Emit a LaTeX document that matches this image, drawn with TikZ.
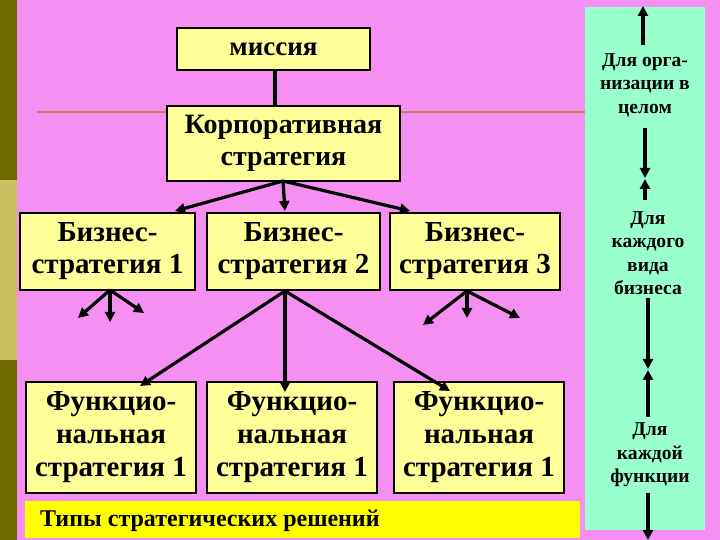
\documentclass[tikz,border=0pt]{standalone}
\usepackage{fontspec}
\setmainfont{Liberation Serif}
\usetikzlibrary{arrows.meta}
\definecolor{pinkbg}{HTML}{F590F2}
\definecolor{boxy}{HTML}{FFFF99}
\definecolor{bary}{HTML}{FFFF00}
\definecolor{greenp}{HTML}{99FFCC}
\definecolor{olived}{HTML}{6E6A00}
\definecolor{olivel}{HTML}{C8C060}
\definecolor{brownl}{HTML}{C08060}
\begin{document}
\begin{tikzpicture}[x=0.5pt,y=-0.5pt,
  bx/.style={draw=black,line width=1pt,fill=boxy,inner sep=0pt,align=center,font=\bfseries\fontsize{14.5}{16}\selectfont},
  ar/.style={line width=1.6pt,-{Triangle[length=5pt,width=5pt]}},
  rt/.style={font=\bfseries\fontsize{9.8}{11.7}\selectfont,align=center}]
\useasboundingbox (0,0) rectangle (720,540);
\fill[pinkbg] (0,0) rectangle (720,540);
\fill[olived] (0,0) rectangle (17,180);
\fill[olivel] (0,180) rectangle (17,360);
\fill[olived] (0,360) rectangle (17,540);
\fill[greenp] (585,7) rectangle (705,530);
\draw[brownl,line width=1pt] (37,112) -- (585,112);
\node[bx,minimum width=96.5pt,minimum height=21pt,font=\bfseries\fontsize{13.5}{14}\selectfont] (m) at (273.5,49) {миссия};
\node[bx,minimum width=116.5pt,minimum height=37.5pt,font=\bfseries\fontsize{14}{16}\selectfont] (c) at (283.5,143.5) {Корпоративная\\стратегия};
\node[bx,minimum width=87.5pt,minimum height=38.5pt] (b1) at (107.5,251.5) {Бизнес-\\стратегия 1};
\node[bx,minimum width=86.5pt,minimum height=38.5pt] (b2) at (293.5,251.5) {Бизнес-\\стратегия 2};
\node[bx,minimum width=85pt,minimum height=38.5pt] (b3) at (475,251.5) {Бизнес-\\стратегия 3};
\node[bx,minimum width=85pt,minimum height=55.5pt,font=\bfseries\fontsize{14.5}{16.5}\selectfont] (f1) at (111,437.5) {Функцио-\\нальная\\стратегия 1};
\node[bx,minimum width=85pt,minimum height=55.5pt,font=\bfseries\fontsize{14.5}{16.5}\selectfont] (f2) at (292,437.5) {Функцио-\\нальная\\стратегия 1};
\node[bx,minimum width=85pt,minimum height=55.5pt,font=\bfseries\fontsize{14.5}{16.5}\selectfont] (f3) at (479,437.5) {Функцио-\\нальная\\стратегия 1};
\node[fill=bary,minimum width=277.5pt,minimum height=18.5pt,inner sep=0pt,anchor=north west] (bar) at (25,501) {};
\node[anchor=west,font=\bfseries\fontsize{12}{13}\selectfont] (bt) at (33,521) {Типы стратегических решений};
\draw[line width=1.6pt] (m.south -| 275,0) -- (c.north -| 275,0);
\coordinate (cs) at (283,181);
\draw[ar] (cs) -- (175,211);
\draw[ar] (cs) -- (285,211);
\draw[ar] (cs) -- (410,211);
\coordinate (b1s) at (110,290);
\draw[ar] (b1s) -- (78,318);
\draw[ar] (b1s) -- (110,322);
\draw[ar] (b1s) -- (144,313);
\coordinate (b2s) at (285,291);
\draw[ar] (b2s) -- (140,386);
\draw[ar] (b2s) -- (285,392);
\draw[ar] (b2s) -- (450,391);
\coordinate (b3s) at (467,291);
\draw[ar] (b3s) -- (423,325);
\draw[ar] (b3s) -- (467,318);
\draw[ar] (b3s) -- (520,318);
\node[rt] (t1) at (645,85) {Для орга-\\низации в\\целом};
\node[rt] (t2) at (648,253) {Для\\каждого\\вида\\бизнеса};
\node[rt] (t3) at (650,455) {Для\\каждой\\функции};
\coordinate (a1) at (643,45); \coordinate (a1t) at (643,6);
\draw[ar] (a1) -- (a1t);
\coordinate (a2) at (645,128); \coordinate (a2t) at (645,178);
\draw[ar] (a2) -- (a2t);
\coordinate (a3) at (645,200); \coordinate (a3t) at (645,179);
\draw[ar] (a3) -- (a3t);
\coordinate (a4) at (648,298); \coordinate (a4t) at (648,369);
\draw[ar] (a4) -- (a4t);
\coordinate (a5) at (648,417); \coordinate (a5t) at (648,370);
\draw[ar] (a5) -- (a5t);
\coordinate (a6) at (648,493); \coordinate (a6t) at (648,540);
\draw[ar] (a6) -- (a6t);
\end{tikzpicture}
\end{document}
